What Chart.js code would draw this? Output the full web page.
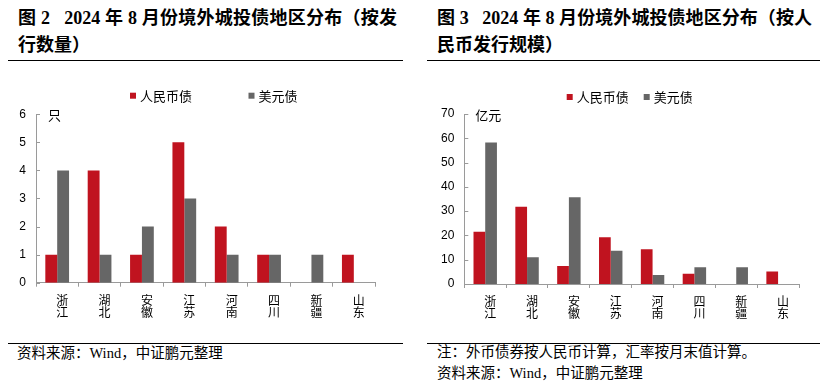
<!DOCTYPE html>
<html>
<head>
<meta charset="utf-8">
<script src="https://cdn.jsdelivr.net/npm/chart.js@4.4.1/dist/chart.umd.min.js"></script>
<style>
body{margin:0;width:835px;height:391px;background:#fff;position:relative;overflow:hidden;font-family:"Liberation Serif","Noto Sans CJK SC",serif;color:#000}
.t{position:absolute;font-weight:bold;font-size:18px;line-height:20px;white-space:nowrap}
.j{text-align:justify;text-align-last:justify}
.rule{position:absolute;height:0;border-top:1.3px solid #000}
.src{position:absolute;font-size:14.5px;line-height:16px;white-space:nowrap}
.box{position:absolute}
</style>
</head>
<body>
<div class="t j" style="left:18px;top:8px;width:379px">图 2&nbsp;&nbsp;&nbsp;2024 年 8 月份境外城投债地区分布（按发</div>
<div class="t" style="left:18px;top:35px">行数量）</div>
<div class="rule" style="left:8px;top:60px;width:395px"></div>

<div class="t j" style="left:437px;top:8px;width:375px">图 3&nbsp;&nbsp;&nbsp;2024 年 8 月份境外城投债地区分布（按人</div>
<div class="t" style="left:437px;top:35px">民币发行规模）</div>
<div class="rule" style="left:427px;top:60px;width:393px"></div>

<div class="box" style="left:0;top:80px;width:410px;height:250px"><canvas id="c1"></canvas></div>
<div class="box" style="left:415px;top:80px;width:415px;height:250px"><canvas id="c2"></canvas></div>

<div class="rule" style="left:8px;top:343px;width:395px"></div>
<div class="src" style="left:17px;top:345px">资料来源：Wind，中证鹏元整理</div>

<div class="rule" style="left:427px;top:343px;width:393px"></div>
<div class="src" style="left:437px;top:344px">注：外币债券按人民币计算，汇率按月末值计算。</div>
<div class="src" style="left:437px;top:365px">资料来源：Wind，中证鹏元整理</div>

<script>
const regions = ['浙江', '湖北', '安徽', '江苏', '河南', '四川', '新疆', '山东'];
const seriesNames = ['人民币债', '美元债'];
// 图2 发行数量（只）
const countRmb = [1, 4, 1, 5, 2, 1, 0, 1];
const countUsd = [4, 1, 2, 3, 1, 1, 1, 0];
// 图3 发行规模（亿元）
const amountRmb = [21.5, 31.8, 7.4, 19.2, 14.3, 4.2, 0, 5.1];
const amountUsd = [58.3, 11.0, 35.7, 13.7, 3.7, 6.9, 6.9, 0];

const red = '#C0131F';
const gray = '#666666';
const axisGray = '#9a9a9a';

// inward y ticks, unit label and a small legend above the plot
const decor = {
  id: 'decor',
  afterDraw(chart, args, o) {
    const {ctx, chartArea: a, scales: {y}} = chart;
    ctx.save();
    ctx.strokeStyle = axisGray;
    ctx.lineWidth = 1;
    y.ticks.forEach((t, i) => {
      const py = Math.round(y.getPixelForTick(i)) + 0.5;
      ctx.beginPath();
      ctx.moveTo(a.left, py);
      ctx.lineTo(a.left + 4, py);
      ctx.stroke();
    });
    ctx.font = '13px "Noto Sans CJK SC", sans-serif';
    ctx.textBaseline = 'middle';
    ctx.fillStyle = '#000';
    ctx.fillText(o.unit, a.left + o.unitDx, a.top + 1);
    let x = o.legendX;
    chart.data.datasets.forEach(ds => {
      ctx.fillStyle = ds.backgroundColor;
      ctx.fillRect(x, o.legendY - 3, 6, 6);
      ctx.fillStyle = '#000';
      ctx.fillText(ds.label, x + 10, o.legendY);
      x += 10 + ctx.measureText(ds.label).width + o.legendGap;
    });
    ctx.restore();
  }
};

function makeChart(id, rmb, usd, opt) {
  const ctx = document.getElementById(id).getContext('2d');
  return new Chart(ctx, {
    type: 'bar',
    data: {
      labels: regions.map(r => r.split('')),
      datasets: [
        {label: seriesNames[0], data: rmb, backgroundColor: red},
        {label: seriesNames[1], data: usd, backgroundColor: gray}
      ]
    },
    options: {
      responsive: true,
      maintainAspectRatio: false,
      animation: false,
      layout: {padding: {top: opt.top, right: opt.right, left: 0, bottom: 0}},
      datasets: {bar: {barPercentage: 1, categoryPercentage: 0.56}},
      plugins: {
        legend: {display: false},
        tooltip: {enabled: false},
        decor: opt.decor
      },
      scales: {
        x: {
          grid: {display: true, drawOnChartArea: false, drawTicks: true, tickLength: 4, color: axisGray, offset: true},
          border: {display: true, color: axisGray},
          ticks: {
            color: '#000', padding: 7, labelOffset: 5, maxRotation: 0, autoSkip: false,
            font: {family: '"Noto Sans CJK SC", sans-serif', size: 12, lineHeight: 1.05}
          },
          afterFit: s => { s.height = opt.xHeight; }
        },
        y: {
          min: 0, max: opt.max,
          grid: {display: false, drawTicks: false},
          border: {display: true, color: axisGray},
          ticks: {
            stepSize: opt.step, color: '#000', padding: 10,
            font: {family: '"Liberation Sans", Arial, sans-serif', size: 12}
          },
          afterFit: s => { s.width = opt.yWidth; }
        }
      }
    },
    plugins: [decor]
  });
}

makeChart('c1', countRmb, countUsd, {
  max: 6, step: 1, top: 34.3, right: 35, xHeight: 47.3, yWidth: 36,
  decor: {unit: '只', unitDx: 12, legendX: 130, legendY: 15.7, legendGap: 56.5}
});
makeChart('c2', amountRmb, amountUsd, {
  max: 70, step: 10, top: 34, right: 31, xHeight: 46, yWidth: 49.3,
  decor: {unit: '亿元', unitDx: 11, legendX: 151.7, legendY: 17, legendGap: 15}
});
</script>
</body>
</html>
